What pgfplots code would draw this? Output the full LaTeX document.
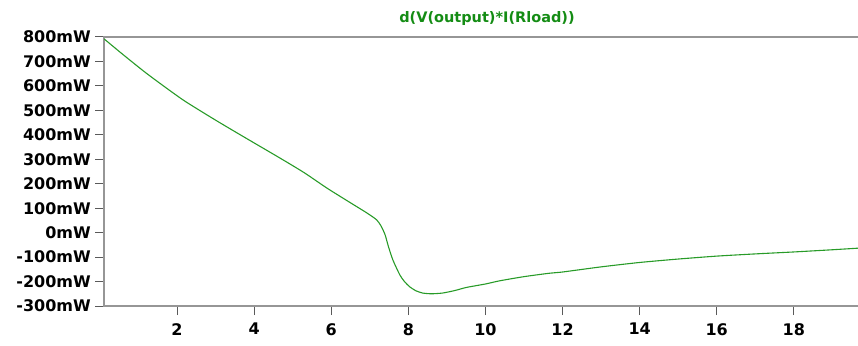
\documentclass[border=0pt]{standalone}
\usepackage{fontspec}
\setmainfont{DejaVu Sans}
\usepackage{pgfplots}
\pgfplotsset{compat=1.18}
\definecolor{curvegreen}{RGB}{40,155,40}
\definecolor{titlegreen}{RGB}{20,140,20}
\definecolor{axgray}{RGB}{150,150,150}
\definecolor{tickgray}{RGB}{90,90,90}
\begin{document}
\begin{tikzpicture}
\path[use as bounding box] (0pt,0pt) rectangle (858pt,345pt);
\begin{axis}[
  at={(104pt,39pt)}, anchor=south west,
  width=760pt, height=269pt, scale only axis,
  xmin=0.106, xmax=19.82, ymin=-300, ymax=800,
  xtick={2,4,...,18},
  ytick={-300,-200,...,800},
  yticklabels={-300mW,-200mW,-100mW,0mW,100mW,200mW,300mW,400mW,500mW,600mW,700mW,800mW},
  xticklabels={2,4,6,8,10,12,14,16,18},
  xtick pos=bottom, ytick pos=left,
  tick align=outside,
  major tick length=9pt,
  tick style={tickgray, line width=1pt},
  axis line style={axgray, line width=1.6pt},
  every tick label/.append style={font=\fontsize{16}{18}\selectfont\bfseries, inner sep=0pt},
  yticklabel style={anchor=east, xshift=-4pt},
  xticklabel style={anchor=north, yshift=-8pt},
  title={d(V(output)*I(Rload))},
  title style={at={(0.5,1)}, anchor=south, yshift=5pt, xshift=3pt, inner sep=0pt,
    font=\fontsize{14.5}{16}\selectfont\bfseries, text=titlegreen},
]
\addplot[curvegreen, line width=1.1pt, smooth, tension=0.4] coordinates {
(0.11,792) (0.6,728) (1.17,656) (1.7,594) (2.21,537) (3.0,460) (3.76,389)
(4.67,305) (5.3,245) (5.89,182) (6.5,122) (6.93,80) (7.18,52) (7.3,25)
(7.4,-10) (7.48,-55) (7.6,-112) (7.78,-173) (7.9,-200) (8.04,-222) (8.2,-238)
(8.37,-247) (8.6,-250) (8.89,-247) (9.2,-237) (9.51,-224) (10.0,-210) (10.37,-197)
(11,-180) (11.66,-166) (12,-161) (13,-140) (14,-122) (15,-108) (16,-96)
(17,-87) (18,-79) (19,-70) (19.82,-62)
};
\end{axis}
\end{tikzpicture}
\end{document}
